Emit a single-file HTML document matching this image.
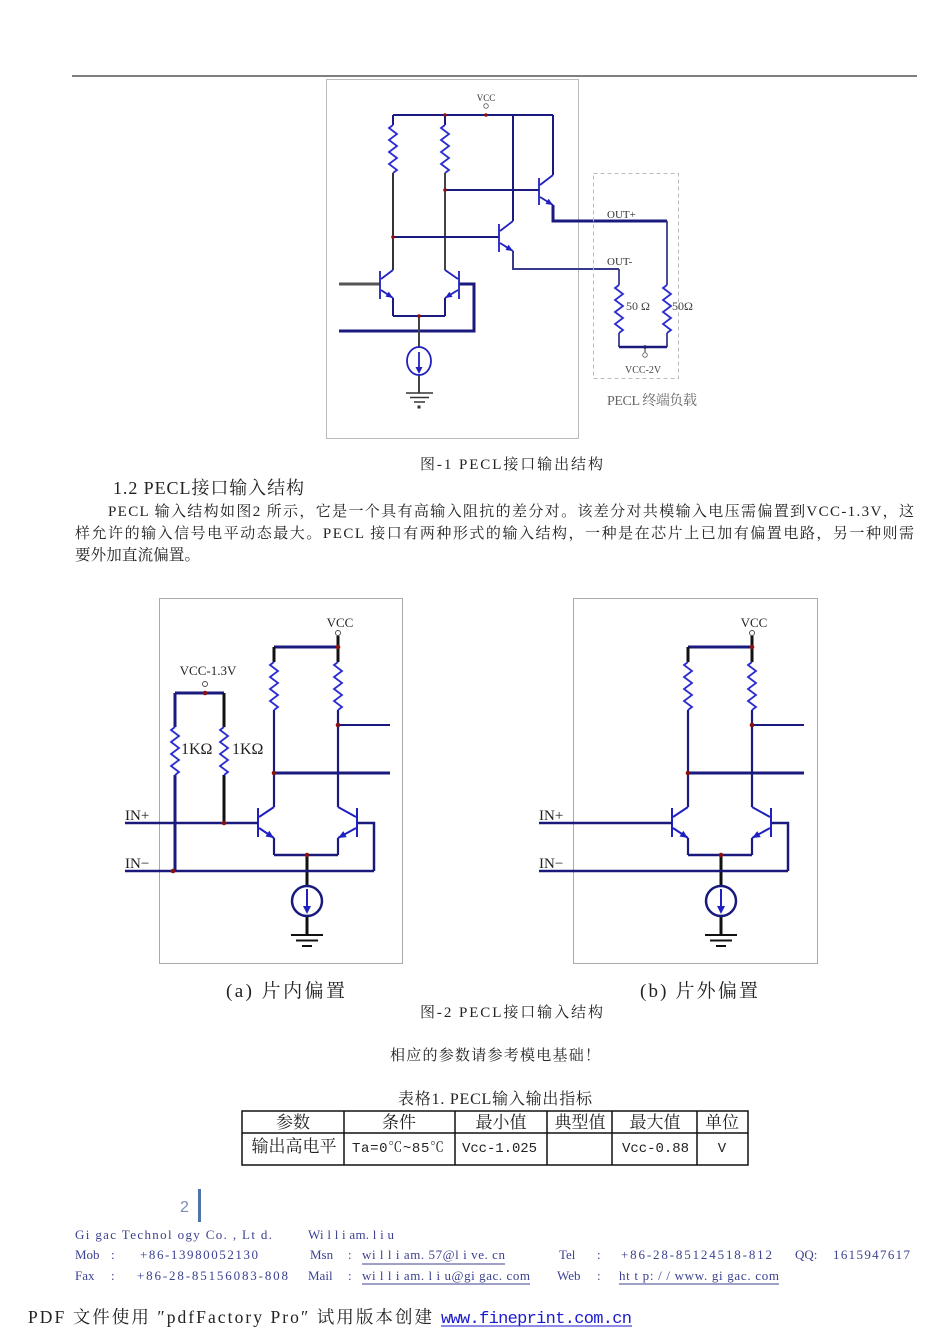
<!DOCTYPE html>
<html><head><meta charset="utf-8">
<style>
html,body{margin:0;padding:0;background:#fff;}
body{width:950px;height:1343px;overflow:hidden;}
svg{display:block;}
.t{font-family:"Liberation Serif","Noto Serif CJK SC",serif;fill:#222;}
.c{font-family:"Liberation Serif","Noto Serif CJK SC",serif;}
.f{font-family:"Liberation Serif","Noto Serif CJK SC",serif;fill:#3c4290;font-size:13px;}
.m{font-family:"Liberation Mono","Noto Serif CJK SC",monospace;fill:#222;}
</style></head>
<body>
<svg width="950" height="1343" viewBox="0 0 950 1343" xmlns="http://www.w3.org/2000/svg">
<defs>
<path id="res" d="M0,0 l-4,3 l8,6 l-8,6 l8,6 l-8,6 l8,6 l-8,6 l8,6 l-4,3" fill="none" stroke="#2b2bd0" stroke-width="1.8"/>
</defs>

<!-- top rule -->
<line x1="72" y1="76" x2="917" y2="76" stroke="#555" stroke-width="1.5"/>

<!-- ================= FIGURE 1 ================= -->
<rect x="326.5" y="79.5" width="252" height="359" fill="none" stroke="#bbb" stroke-width="1"/>
<text x="486" y="101" class="c" font-size="9" fill="#333" text-anchor="middle">VCC</text>
<circle cx="486" cy="106" r="2.3" fill="none" stroke="#555" stroke-width="0.8"/>
<g fill="none" stroke="#1a1a7e" stroke-width="2">
  <line x1="393" y1="115" x2="553" y2="115"/>
  <line x1="393" y1="115" x2="393" y2="125"/>
  <line x1="393" y1="173" x2="393" y2="270" stroke="#333"/>
  <line x1="445" y1="115" x2="445" y2="125"/>
  <line x1="445" y1="173" x2="445" y2="270" stroke="#444"/>
  <line x1="513" y1="115" x2="513" y2="221"/>
  <line x1="553" y1="115" x2="553" y2="175"/>
  <line x1="445" y1="190" x2="539" y2="190"/>
  <line x1="393" y1="237" x2="499" y2="237"/>
  <polyline points="553,205 553,221 667,221" stroke-width="3"/>
  <polyline points="513,251 513,269 619,269" stroke="#3a3a8a"/>
  <line x1="339" y1="284" x2="380" y2="284" stroke="#555" stroke-width="3"/>
  <line x1="393" y1="298" x2="393" y2="316"/>
  <line x1="445" y1="298" x2="445" y2="316"/>
  <line x1="393" y1="316" x2="445" y2="316"/>
  <polyline points="459,284 474,284 474,331 339,331" stroke-width="3"/>
  <line x1="419" y1="316" x2="419" y2="347" stroke="#444"/>
  <line x1="419" y1="375" x2="419" y2="393" stroke="#444"/>
</g>
<use href="#res" x="393" y="125"/>
<use href="#res" x="445" y="125"/>
<g stroke="#2020c0" stroke-width="1.8" fill="none">
  <line x1="380" y1="271" x2="380" y2="299"/>
  <line x1="393" y1="270" x2="381" y2="279"/>
  <line x1="381" y1="290" x2="393" y2="298"/>
  <line x1="459" y1="271" x2="459" y2="299"/>
  <line x1="445" y1="270" x2="458" y2="279"/>
  <line x1="458" y1="290" x2="445" y2="298"/>
  <line x1="539" y1="178" x2="539" y2="205"/>
  <line x1="553" y1="175" x2="540" y2="185"/>
  <line x1="540" y1="197" x2="553" y2="205"/>
  <line x1="499" y1="224" x2="499" y2="252"/>
  <line x1="513" y1="221" x2="500" y2="231"/>
  <line x1="500" y1="243" x2="513" y2="251"/>
  <ellipse cx="419" cy="361" rx="12" ry="14"/>
  <line x1="419" y1="352" x2="419" y2="370"/>
</g>
<g fill="#2020c0">
  <polygon points="393,298 385.5,296.6 388.8,291.6"/>
  <polygon points="445,298 452.5,296.9 449.4,291.8"/>
  <polygon points="553,205 545.5,204 548.6,198.8"/>
  <polygon points="513,251 505.5,250 508.6,244.8"/>
  <polygon points="419,374 415.5,367 422.5,367"/>
</g>
<g stroke="#333" stroke-width="1.5">
  <line x1="406" y1="393" x2="433" y2="393"/>
  <line x1="410" y1="397.5" x2="429" y2="397.5"/>
  <line x1="414" y1="402" x2="425" y2="402"/>
</g>
<rect x="417.5" y="405.5" width="3" height="3" fill="#333"/>
<g fill="#8b1010">
  <circle cx="486" cy="115" r="1.8"/><circle cx="445" cy="115" r="1.8"/>
  <circle cx="445" cy="190" r="1.8"/><circle cx="393" cy="237" r="1.8"/>
  <circle cx="419" cy="316" r="1.8"/><circle cx="645" cy="347" r="1.8"/>
</g>
<rect x="593.5" y="173.5" width="85" height="205" fill="none" stroke="#bbb" stroke-width="1" stroke-dasharray="4,3"/>
<g fill="none" stroke="#3a3a8a" stroke-width="1.8">
  <line x1="667" y1="221" x2="667" y2="285"/>
  <line x1="667" y1="333" x2="667" y2="347"/>
  <line x1="619" y1="269" x2="619" y2="285"/>
  <line x1="619" y1="333" x2="619" y2="347"/>
  <line x1="619" y1="347" x2="667" y2="347" stroke="#1a1a7e" stroke-width="2.5"/>
  <line x1="645" y1="347" x2="645" y2="352" stroke="#333" stroke-width="1"/>
</g>
<use href="#res" x="619" y="285"/>
<use href="#res" x="667" y="285"/>
<circle cx="645" cy="355" r="2.3" fill="none" stroke="#555" stroke-width="0.8"/>
<text x="607" y="218" class="c" font-size="11" fill="#333">OUT+</text>
<text x="607" y="265" class="c" font-size="11" fill="#333">OUT-</text>
<text x="626" y="310" class="c" font-size="12" fill="#444">50 Ω</text>
<text x="672" y="310" class="c" font-size="12" fill="#444">50Ω</text>
<text x="625" y="373" class="c" font-size="10" fill="#444">VCC-2V</text>
<text x="607" y="405" class="c" font-size="14" fill="#666" textLength="90">PECL  终端负载</text>

<!-- captions & paragraph -->
<text x="420" y="469" class="t" font-size="15" textLength="183">图-1  PECL接口输出结构</text>
<text x="113" y="494" class="t" font-size="18" textLength="191">1.2 PECL接口输入结构</text>
<text x="108" y="516" class="t" font-size="15" textLength="806">PECL 输入结构如图2 所示，它是一个具有高输入阻抗的差分对。该差分对共模输入电压需偏置到VCC-1.3V，这</text>
<text x="75" y="538" class="t" font-size="15" textLength="839">样允许的输入信号电平动态最大。PECL 接口有两种形式的输入结构，一种是在芯片上已加有偏置电路，另一种则需</text>
<text x="75" y="560" class="t" font-size="15.5" textLength="125">要外加直流偏置。</text>

<!-- ================= FIGURE 2 ================= -->
<rect x="159.5" y="598.5" width="243" height="365" fill="none" stroke="#aaa" stroke-width="1"/>
<rect x="573.5" y="598.5" width="244" height="365" fill="none" stroke="#aaa" stroke-width="1"/>

<g id="diff">
  <text x="340" y="627" class="c" font-size="13" fill="#222" text-anchor="middle">VCC</text>
  <circle cx="338" cy="633" r="2.5" fill="none" stroke="#444" stroke-width="0.9"/>
  <g fill="none" stroke="#1a1a7e" stroke-width="3">
    <line x1="274" y1="647" x2="338" y2="647"/>
    <line x1="274" y1="647" x2="274" y2="662" stroke="#111"/>
    <line x1="338" y1="636" x2="338" y2="662" stroke="#111"/>
    <line x1="274" y1="710" x2="274" y2="807" stroke-width="2.2"/>
    <line x1="338" y1="710" x2="338" y2="807" stroke-width="2.2"/>
    <line x1="338" y1="725" x2="390" y2="725" stroke-width="2"/>
    <line x1="274" y1="773" x2="390" y2="773"/>
    <line x1="274" y1="838" x2="274" y2="855" stroke-width="2.2"/>
    <line x1="338" y1="838" x2="338" y2="855" stroke-width="2.2"/>
    <line x1="274" y1="855" x2="338" y2="855" stroke-width="2.5"/>
    <polyline points="357,823 374,823 374,871" stroke-width="2.5"/>
    <line x1="307" y1="855" x2="307" y2="886" stroke="#111"/>
    <line x1="307" y1="916" x2="307" y2="935" stroke="#111"/>
  </g>
  <use href="#res" x="274" y="662"/>
  <use href="#res" x="338" y="662"/>
  <g stroke="#2020c0" stroke-width="2" fill="none">
    <line x1="258" y1="808" x2="258" y2="837"/>
    <line x1="274" y1="807" x2="259" y2="817"/>
    <line x1="259" y1="828" x2="274" y2="838"/>
    <line x1="357" y1="808" x2="357" y2="837"/>
    <line x1="338" y1="807" x2="356" y2="817"/>
    <line x1="356" y1="828" x2="338" y2="838"/>
    <circle cx="307" cy="901" r="15" stroke="#1a1a7e" stroke-width="2.5"/>
    <line x1="307" y1="889" x2="307" y2="910"/>
  </g>
  <g fill="#2020c0">
    <polygon points="274,838 265.5,836.5 269.3,830.7"/>
    <polygon points="338,838 346.7,837.1 343.3,831.1"/>
    <polygon points="307,914 303,906 311,906"/>
  </g>
  <g stroke="#111" stroke-width="2">
    <line x1="291" y1="935" x2="323" y2="935"/>
    <line x1="296" y1="940.5" x2="318" y2="940.5"/>
    <line x1="302" y1="946" x2="312" y2="946"/>
  </g>
  <g fill="#8b1010">
    <circle cx="338" cy="647" r="2.3"/><circle cx="338" cy="725" r="2.3"/>
    <circle cx="274" cy="773" r="2.3"/><circle cx="307" cy="855" r="2.3"/>
  </g>
</g>
<use href="#diff" x="414" y="0"/>

<g fill="none" stroke="#1a1a7e" stroke-width="2.5">
  <line x1="125" y1="823" x2="258" y2="823"/>
  <line x1="125" y1="871" x2="374" y2="871"/>
  <line x1="175" y1="693" x2="224" y2="693" stroke-width="3"/>
  <line x1="175" y1="693" x2="175" y2="727" stroke-width="3"/>
  <line x1="224" y1="693" x2="224" y2="727" stroke="#111" stroke-width="3"/>
  <line x1="175" y1="775" x2="175" y2="871" stroke-width="3"/>
  <line x1="224" y1="775" x2="224" y2="823" stroke="#111" stroke-width="3"/>
  <line x1="539" y1="823" x2="672" y2="823"/>
  <line x1="539" y1="871" x2="788" y2="871"/>
</g>
<use href="#res" x="175" y="727"/>
<use href="#res" x="224" y="727"/>
<g fill="#8b1010">
  <circle cx="205" cy="693" r="2.3"/><circle cx="224" cy="823" r="2.3"/><circle cx="173" cy="871" r="2.3"/>
</g>
<text x="208" y="675" class="c" font-size="13" fill="#222" text-anchor="middle">VCC-1.3V</text>
<circle cx="205" cy="684" r="2.5" fill="none" stroke="#444" stroke-width="0.9"/>
<text x="181" y="754" class="c" font-size="16" fill="#222">1KΩ</text>
<text x="232" y="754" class="c" font-size="16" fill="#222">1KΩ</text>
<text x="125" y="820" class="c" font-size="15" fill="#222">IN+</text>
<text x="125" y="868" class="c" font-size="15" fill="#222">IN−</text>
<text x="539" y="820" class="c" font-size="15" fill="#222">IN+</text>
<text x="539" y="868" class="c" font-size="15" fill="#222">IN−</text>

<!-- captions -->
<text x="226" y="997" class="t" font-size="19" textLength="119">(a) 片内偏置</text>
<text x="640" y="997" class="t" font-size="19" textLength="118">(b) 片外偏置</text>
<text x="420" y="1017" class="t" font-size="15" textLength="183">图-2  PECL接口输入结构</text>
<text x="390" y="1060" class="t" font-size="15" textLength="210">相应的参数请参考模电基础！</text>
<text x="398" y="1104" class="t" font-size="16" textLength="194">表格1. PECL输入输出指标</text>

<!-- table -->
<g stroke="#111" stroke-width="1.5" fill="none">
  <rect x="242" y="1111" width="506" height="54"/>
  <line x1="242" y1="1133" x2="748" y2="1133"/>
  <line x1="344" y1="1111" x2="344" y2="1165"/>
  <line x1="455" y1="1111" x2="455" y2="1165"/>
  <line x1="547" y1="1111" x2="547" y2="1165"/>
  <line x1="612" y1="1111" x2="612" y2="1165"/>
  <line x1="697" y1="1111" x2="697" y2="1165"/>
</g>
<g class="t" font-size="17" text-anchor="middle">
  <text x="293" y="1128">参数</text>
  <text x="399" y="1128">条件</text>
  <text x="501" y="1128">最小值</text>
  <text x="580" y="1128">典型值</text>
  <text x="655" y="1128">最大值</text>
  <text x="722" y="1128">单位</text>
  <text x="294" y="1152">输出高电平</text>
</g>
<text x="352" y="1152" class="m" font-size="14" textLength="92">Ta=0℃~85℃</text>
<text x="462" y="1152" class="m" font-size="14" textLength="75">Vcc-1.025</text>
<text x="622" y="1152" class="m" font-size="14" textLength="67">Vcc-0.88</text>
<text x="722" y="1152" class="m" font-size="14" text-anchor="middle">V</text>

<!-- footer -->
<text x="180" y="1212" font-family="Liberation Sans, sans-serif" font-size="16" fill="#7b8db5">2</text>
<rect x="198" y="1189" width="3" height="33" fill="#4f74a8"/>

<text x="75" y="1239" class="f" textLength="197">Gi gac  Technol ogy  Co. ,  Lt d.</text>
<text x="308" y="1239" class="f" textLength="86">Wi l l i am. l i u</text>

<text x="75" y="1259" class="f">Mob</text>
<text x="111" y="1259" class="f">:</text>
<text x="140" y="1259" class="f" textLength="118">+86-13980052130</text>
<text x="310" y="1259" class="f">Msn</text>
<text x="348" y="1259" class="f">:</text>
<text x="362" y="1259" class="f" textLength="143">wi l l i am. 57@l i ve. cn</text>
<line x1="362" y1="1264" x2="505" y2="1264" stroke="#3c4290" stroke-width="1"/>
<text x="559" y="1259" class="f">Tel</text>
<text x="597" y="1259" class="f">:</text>
<text x="621" y="1259" class="f" textLength="151">+86-28-85124518-812</text>
<text x="795" y="1259" class="f">QQ:</text>
<text x="833" y="1259" class="f" textLength="77">1615947617</text>

<text x="75" y="1280" class="f">Fax</text>
<text x="111" y="1280" class="f">:</text>
<text x="137" y="1280" class="f" textLength="151">+86-28-85156083-808</text>
<text x="308" y="1280" class="f">Mail</text>
<text x="348" y="1280" class="f">:</text>
<text x="362" y="1280" class="f" textLength="168">wi l l i am. l i u@gi gac. com</text>
<line x1="362" y1="1284" x2="530" y2="1284" stroke="#3c4290" stroke-width="1"/>
<text x="557" y="1280" class="f">Web</text>
<text x="597" y="1280" class="f">:</text>
<text x="619" y="1280" class="f" textLength="160">ht t p: / / www. gi gac. com</text>
<line x1="619" y1="1284" x2="779" y2="1284" stroke="#3c4290" stroke-width="1"/>

<text x="28" y="1323" class="t" font-size="17.5" textLength="404">PDF 文件使用 ″pdfFactory Pro″ 试用版本创建</text>
<text x="441" y="1323" class="m" font-size="17" style="fill:#1a1ad0" textLength="191">www.fineprint.com.cn</text>
<line x1="441" y1="1326" x2="632" y2="1326" stroke="#1a1ad0" stroke-width="1"/>
</svg>
</body></html>
